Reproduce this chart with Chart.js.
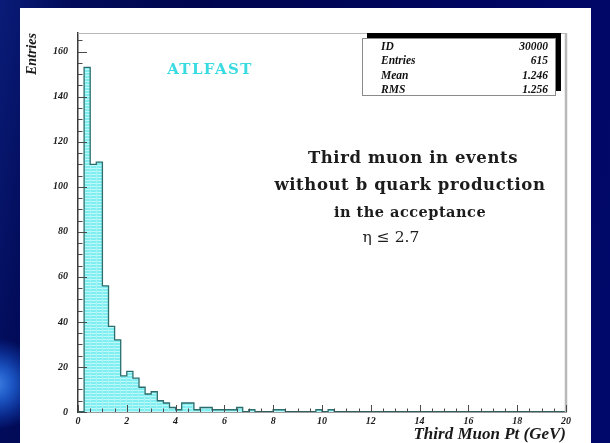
<!DOCTYPE html>
<html>
<head>
<meta charset="utf-8">
<script src="https://cdn.jsdelivr.net/npm/chart.js@4.4.1/dist/chart.umd.min.js"></script>
<style>
  html, body { margin: 0; padding: 0; width: 610px; height: 443px; overflow: hidden; }
  body {
    position: relative;
    background:
      radial-gradient(circle at -4px 384px, #3f80e4 0px, #1c56c4 16px, #0a2a8c 32px, rgba(0,10,80,0) 46px),
      linear-gradient(100deg, #0a1c78 0%, #020c5a 10%, #00064e 30%, #000660 70%, #00086a 100%);
  }
  #panel { position: absolute; left: 20px; top: 8px; width: 571px; height: 435px; background: #ffffff; }
  #wrap { position: absolute; left: 0; top: 0; width: 610px; height: 443px; }
  .note { position: absolute; white-space: nowrap; color: #1c1c1c; font-family: "DejaVu Serif", serif; font-weight: bold; transform: translate(-50%, -50%); }
  #tag { position: absolute; white-space: nowrap; color: #3adbe0; font-family: "DejaVu Serif", serif; font-weight: bold; font-size: 15px; letter-spacing: 1.4px; transform: translate(-50%, -50%); }
  #stats {
    position: absolute; left: 362px; top: 38px; width: 192px; height: 56px;
    background: #fff; border: 1px solid #8a8a8a; box-shadow: 5px -5px 0 #000;
    font-family: "Liberation Serif", serif; font-style: italic; font-weight: bold; font-size: 11.5px; color: #111;
  }
  #stats .row { position: absolute; left: 18px; right: 7px; height: 14px; line-height: 14px; }
  #stats .row span:last-child { position: absolute; right: 0; }
</style>
</head>
<body>
<div id="panel"></div>
<div id="wrap"><canvas id="c" width="610" height="443"></canvas></div>
<div id="tag" style="left:210px; top:69px;">ATLFAST</div>
<div class="note" style="left:413px; top:157px; font-size:16.5px; letter-spacing:0.6px;">Third muon in events</div>
<div class="note" style="left:410px; top:184px; font-size:16.5px; letter-spacing:0.6px;">without b quark production</div>
<div class="note" style="left:410px; top:211px; font-size:14.5px; letter-spacing:0.5px;">in the acceptance</div>
<div class="note" style="left:391px; top:237px; font-size:15.5px; font-weight:normal;">η ≤ 2.7</div>
<div id="stats"></div>
<script>
// Histogram of the third muon transverse momentum, 0.25 GeV bins from 0 to 20 GeV
const binWidth = 0.25;
const xMin = 0;
const xMax = 20;
const binCounts = [
  0, 153, 110, 111, 56, 38, 32, 16,
  18, 15, 11, 8, 9, 5, 4, 2,
  1, 4, 4, 1, 2, 2, 1, 1,
  1, 1, 2, 0, 1, 0, 0, 0,
  1, 1, 0, 0, 0, 0, 0, 1,
  0, 1, 0, 0, 0, 0, 0, 0,
  0, 0, 0, 0, 0, 0, 0, 0,
  0, 0, 0, 0, 0, 0, 0, 0,
  0, 0, 0, 0, 0, 0, 0, 0,
  0, 0, 0, 0, 0, 0, 0, 0
];
const yMax = 168.3;
const xTickLabels = [0, 2, 4, 6, 8, 10, 12, 14, 16, 18, 20];
const yTickLabels = [0, 20, 40, 60, 80, 100, 120, 140, 160];
const xMinorStep = 0.5;
const yMinorStep = 5;

const statNames = ['ID', 'Entries', 'Mean', 'RMS'];
const statValues = ['30000', '615', '1.246', '1.256'];

// statistics box
const stats = document.getElementById('stats');
statNames.forEach((name, i) => {
  const row = document.createElement('div');
  row.className = 'row';
  row.style.top = (i * 14.3) + 'px';
  row.innerHTML = '<span>' + name + '</span><span>' + statValues[i] + '</span>';
  stats.appendChild(row);
});

// left edges of each bin, closing point at the upper limit
const histPoints = binCounts.map((v, i) => ({ x: xMin + i * binWidth, y: v }));
histPoints.push({ x: xMax, y: binCounts[binCounts.length - 1] });

// pale cyan hatch fill
function hatchPattern() {
  const p = document.createElement('canvas');
  p.width = 6; p.height = 3;
  const g = p.getContext('2d');
  g.fillStyle = '#80eef0';
  g.fillRect(0, 0, 6, 3);
  g.fillStyle = '#bff9fa';
  g.fillRect(0, 0, 6, 1);
  g.fillStyle = '#a2f4f5';
  g.fillRect(0, 0, 1, 3);
  return g.createPattern(p, 'repeat');
}

const serifTick = { family: '"Liberation Serif", serif', style: 'italic', weight: 'bold', size: 10 };

// frame and inward tick marks in the PAW style
const framePlugin = {
  id: 'frame',
  afterDatasetsDraw(chart) {
    const { ctx, chartArea: a, scales: { x, y } } = chart;
    ctx.save();
    ctx.strokeStyle = '#b8b8b8';
    ctx.lineWidth = 1;
    ctx.beginPath();
    ctx.moveTo(a.left, a.top + 0.5);
    ctx.lineTo(a.right, a.top + 0.5);
    ctx.stroke();
    ctx.lineWidth = 2.5;
    ctx.beginPath();
    ctx.moveTo(a.right, a.top);
    ctx.lineTo(a.right, a.bottom);
    ctx.stroke();

    ctx.strokeStyle = '#4a4a4a';
    ctx.lineWidth = 1;
    for (let v = xMin; v <= xMax + 1e-9; v += xMinorStep) {
      const px = Math.round(x.getPixelForValue(v)) + 0.5;
      const major = Math.abs(v % 2) < 1e-9;
      const len = major ? 7 : 3.5;
      ctx.beginPath();
      ctx.moveTo(px, a.bottom);
      ctx.lineTo(px, a.bottom - len);
      ctx.stroke();
    }
    for (let v = 0; v <= yMax; v += yMinorStep) {
      const py = Math.round(y.getPixelForValue(v)) + 0.5;
      const major = v % 20 === 0;
      const len = major ? 9 : 4.5;
      ctx.beginPath();
      ctx.moveTo(a.left, py);
      ctx.lineTo(a.left + len, py);
      ctx.stroke();
    }
    ctx.restore();
  }
};

new Chart(document.getElementById('c'), {
  type: 'line',
  data: {
    datasets: [{
      data: histPoints,
      stepped: 'before',
      fill: 'origin',
      backgroundColor: hatchPattern(),
      borderColor: '#2c6e6e',
      borderWidth: 1.3,
      pointRadius: 0,
      tension: 0
    }]
  },
  options: {
    responsive: false,
    animation: false,
    events: [],
    layout: { padding: { left: 20, top: 33, right: 44, bottom: 0 } },
    plugins: { legend: { display: false }, tooltip: { enabled: false } },
    scales: {
      x: {
        type: 'linear',
        min: xMin,
        max: xMax,
        afterBuildTicks: s => { s.ticks = xTickLabels.map(v => ({ value: v })); },
        afterFit: s => { s.height = 31; },
        grid: { display: false, drawTicks: false },
        border: { display: true, color: '#3a3a3a', width: 1.5 },
        ticks: { autoSkip: false, maxRotation: 0, padding: 3, color: '#1a1a1a', font: serifTick },
        title: {
          display: true, text: 'Third Muon Pt (GeV)', align: 'end', color: '#1a1a1a',
          padding: { top: 0, bottom: 0 },
          font: { family: '"Liberation Serif", serif', style: 'italic', weight: 'bold', size: 17, lineHeight: 1 }
        }
      },
      y: {
        type: 'linear',
        min: 0,
        max: yMax,
        afterBuildTicks: s => { s.ticks = yTickLabels.map(v => ({ value: v })); },
        afterFit: s => { s.width = 58; },
        grid: { display: false, drawTicks: false },
        border: { display: true, color: '#3a3a3a', width: 1.5 },
        ticks: { padding: 10, color: '#1a1a1a', font: serifTick },
        title: {
          display: true, text: 'Entries', align: 'end', color: '#1a1a1a',
          padding: { top: 4, bottom: 0 },
          font: { family: '"Liberation Serif", serif', style: 'italic', weight: 'bold', size: 14 }
        }
      }
    }
  },
  plugins: [framePlugin]
});
</script>
</body>
</html>
